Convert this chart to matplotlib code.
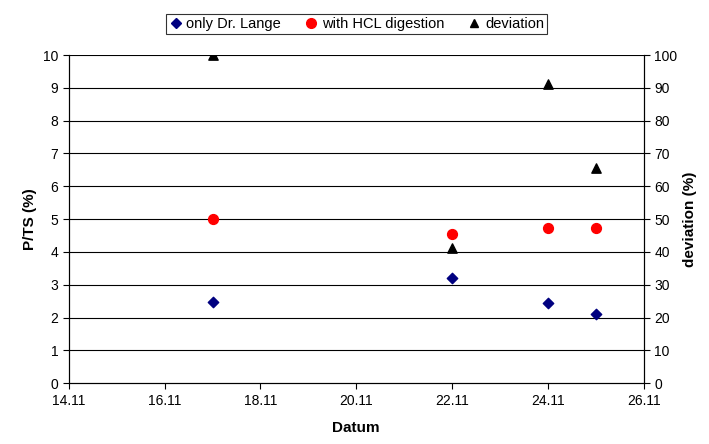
import datetime as dt
import matplotlib
matplotlib.use("Agg")
import matplotlib.pyplot as plt
import matplotlib.dates as mdates
from matplotlib.lines import Line2D

plt.rcParams["font.family"] = ["Liberation Sans", "DejaVu Sans"]
plt.rcParams["font.size"] = 10

# sampling days (November)
days = [17, 22, 24, 25]
dates = [dt.datetime(2008, 11, d) for d in days]
only_lange = [2.47, 3.2, 2.44, 2.1]       # P/TS (%)
with_hcl = [5.0, 4.54, 4.73, 4.73]        # P/TS (%)
deviation = [100.0, 41.2, 91.2, 65.5]     # %

fig = plt.figure(figsize=(7.09, 4.44), dpi=100)
ax = fig.add_axes([0.097, 0.137, 0.811, 0.739])
ax2 = ax.twinx()

ax.set_ylim(0, 10)
ax.set_yticks(range(0, 11))
ax2.set_ylim(0, 100)
ax2.set_yticks(range(0, 101, 10))
ax.set_xlim(dt.datetime(2008, 11, 14), dt.datetime(2008, 11, 26))
ax.xaxis.set_major_locator(mdates.DayLocator(bymonthday=range(14, 27, 2)))
ax.xaxis.set_major_formatter(mdates.DateFormatter("%d.%m"))

for y in range(1, 11):
    ax.axhline(y, color="black", lw=0.8, zorder=0)

ax.scatter(dates, only_lange, marker="D", s=28, color="#000080", zorder=3)
ax.scatter(dates, with_hcl, marker="o", s=50, color="#ff0000", zorder=3)
ax2.scatter(dates, deviation, marker="^", s=45, color="black", zorder=3)

for a in (ax, ax2):
    a.spines["top"].set_visible(False)
    a.tick_params(direction="out", length=4, width=0.8, labelsize=10)
    for s in a.spines.values():
        s.set_linewidth(0.8)

ax.set_ylabel("P/TS (%)", fontweight="bold", fontsize=11)
ax2.set_ylabel("deviation (%)", fontweight="bold", fontsize=11)
ax.set_xlabel("Datum", fontweight="bold", fontsize=11, labelpad=10)

handles = [
    Line2D([], [], ls="", marker="D", ms=5, color="#000080", label="only Dr. Lange"),
    Line2D([], [], ls="", marker="o", ms=7, color="#ff0000", label="with HCL digestion"),
    Line2D([], [], ls="", marker="^", ms=6, color="black", label="deviation"),
]
leg = fig.legend(handles=handles, loc="upper center", bbox_to_anchor=(0.503, 0.985),
                 ncol=3, frameon=True, fancybox=False, edgecolor="black",
                 handletextpad=0.3, columnspacing=1.6, borderpad=0.2,
                 handlelength=0.9, fontsize=10.5)
leg.get_frame().set_linewidth(0.8)

fig.savefig("out.png", dpi=100)
